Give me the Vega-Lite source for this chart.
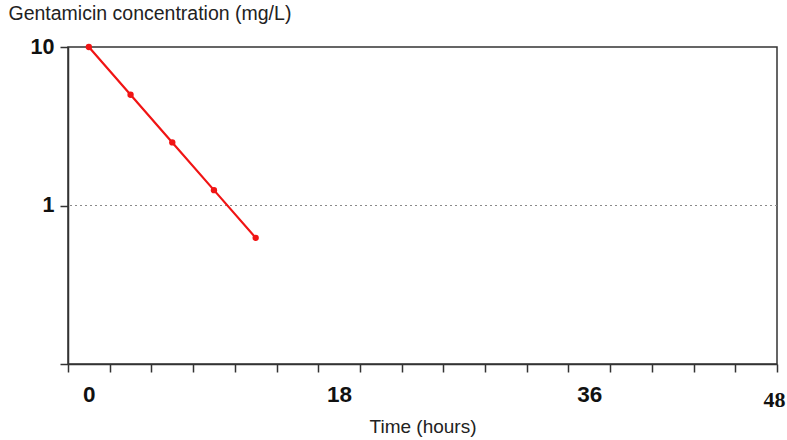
{
  "$schema": "https://vega.github.io/schema/vega-lite/v6.json",
  "width": 709,
  "height": 317,
  "autosize": "none",
  "padding": {"left": 68, "top": 47, "right": 10, "bottom": 76},
  "background": "white",
  "config": {
    "view": {"stroke": "#333333", "strokeWidth": 1.5},
    "axis": {"domainColor": "#333333", "domainWidth": 1.5, "tickColor": "#333333", "tickWidth": 1.5, "tickSize": 8, "grid": false, "labelColor": "#111111", "titleColor": "#222222"}
  },
  "layer": [
    {
      "data": {"values": [{"ref": 1}]},
      "mark": {"type": "rule", "color": "#8a8a8a", "strokeWidth": 1.2, "strokeDash": [2, 3]},
      "encoding": {
        "y": {"field": "ref", "type": "quantitative", "scale": {"type": "log", "domain": [0.1, 10]}}
      }
    },
    {
      "data": {"values": [
        {"time": 0, "conc": 10},
        {"time": 3, "conc": 5},
        {"time": 6, "conc": 2.5},
        {"time": 9, "conc": 1.25},
        {"time": 12, "conc": 0.625}
      ]},
      "mark": {"type": "line", "color": "#f01414", "strokeWidth": 2.2, "point": {"filled": true, "size": 40, "color": "#f01414"}},
      "encoding": {
        "x": {
          "field": "time", "type": "quantitative",
          "scale": {"domain": [-1.5, 49.5], "nice": false, "zero": false},
          "axis": {
            "title": "Time (hours)",
            "titleFont": "Liberation Sans", "titleFontSize": 19, "titleFontWeight": "normal",
            "titleBaseline": "middle", "titleY": 62,
            "values": [-1.5, 0, 1.5, 4.5, 7.5, 10.5, 13.5, 16.5, 18, 19.5, 22.5, 25.5, 28.5, 31.5, 34.5, 36, 37.5, 40.5, 43.5, 46.5, 49.28, 49.5],
            "labelExpr": "datum.value==0||datum.value==18||datum.value==36 ? format(datum.value,'d') : (datum.value==49.28 ? '48' : '')",
            "labelOverlap": false, "labelFlush": false, "labelBound": false,
            "labelFontSize": {"condition": {"test": "datum.value==49.28", "value": 22}, "value": 22.5},
            "labelFont": {"condition": {"test": "datum.value==49.28", "value": "Liberation Serif"}, "value": "Liberation Sans"},
            "labelFontWeight": "bold",
            "labelPadding": {"condition": {"test": "datum.value==49.28", "value": 17}, "value": 11},
            "tickOpacity": {"condition": {"test": "datum.value==0||datum.value==18||datum.value==36||datum.value==49.28", "value": 0}, "value": 1}
          }
        },
        "y": {
          "field": "conc", "type": "quantitative",
          "scale": {"type": "log", "domain": [0.1, 10]},
          "axis": {
            "values": [0.1, 1, 10],
            "labelExpr": "datum.value >= 1 ? format(datum.value,'d') : ''",
            "labelFont": "Liberation Sans", "labelFontSize": 21.5, "labelFontWeight": "bold",
            "labelPadding": 6,
            "title": "Gentamicin concentration (mg/L)",
            "titleFont": "Liberation Sans", "titleFontSize": 19.5, "titleFontWeight": "normal",
            "titleAngle": 0, "titleAlign": "left", "titleBaseline": "top",
            "titleX": -60, "titleY": -43
          }
        }
      }
    }
  ]
}
